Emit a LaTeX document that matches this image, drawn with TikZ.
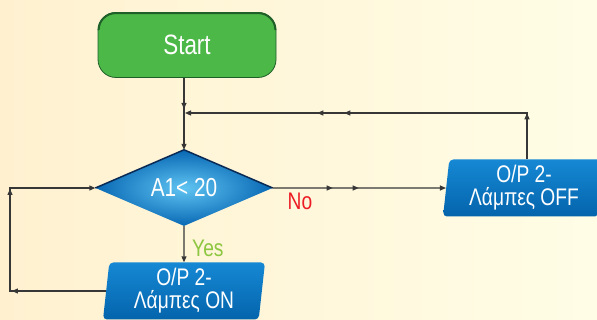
\documentclass[tikz,border=0pt]{standalone}
\usepackage{fontspec}
\setmainfont[FakeStretch=0.8]{Liberation Sans}
\usepackage{xcolor}
\usetikzlibrary{arrows.meta,decorations.markings,shapes.geometric}

\definecolor{bgleft}{RGB}{255,241,208}
\definecolor{bgright}{RGB}{255,253,230}
\definecolor{startgreen}{RGB}{76,184,72}
\definecolor{startrim}{RGB}{30,96,40}
\definecolor{boxtop}{RGB}{22,136,212}
\definecolor{boxbottom}{RGB}{4,100,172}
\definecolor{lightblue}{RGB}{96,196,242}
\definecolor{darkblue}{RGB}{8,104,180}
\definecolor{rimblue}{RGB}{8,42,84}
\definecolor{flowgray}{RGB}{55,55,55}
\definecolor{yesgreen}{RGB}{141,198,63}
\definecolor{nored}{RGB}{237,28,36}

\tikzset{
  flow/.style={draw=flowgray,line width=1.1pt,-{Triangle[length=6pt,width=5pt]}},
  tipat/.style={postaction={decorate,decoration={markings,
      mark=at position #1 with {\arrow{Triangle[length=6pt,width=5pt]}}}}},
  startbox/.style={rectangle,rounded corners=18pt,minimum width=178pt,minimum height=65pt,
      fill=startgreen,draw=startrim,line width=0.8pt,font=\fontsize{28}{28}\selectfont},
  testbox/.style={diamond,aspect=2.4,minimum width=177pt,minimum height=76pt,inner sep=0pt,
      inner color=lightblue,outer color=darkblue,font=\fontsize{26}{26}\selectfont},
  outbox/.style={trapezium,trapezium left angle=82,trapezium right angle=98,
      trapezium stretches body,minimum width=162pt,minimum height=57pt,inner sep=0pt,
      rounded corners=4pt,top color=boxtop,bottom color=boxbottom,align=center},
}

\begin{document}
\begin{tikzpicture}[x=1pt,y=-1pt,font=\fontsize{24}{23}\selectfont,text=white]
    % Background
    \clip (0,0) rectangle (597,320);
    \shade[left color=bgleft,right color=bgright] (0,0) rectangle (597,320);

    % Blocks
    \node[startbox] (start) at (187,45) {Start};
    \draw[startrim,line width=2pt] ([xshift=1pt,yshift=-18pt]start.north west) arc[start angle=180,end angle=90,radius=17pt]
        -- ([xshift=-18pt,yshift=-1pt]start.north east) arc[start angle=90,end angle=0,radius=17pt];
    \node[testbox] (test) at (184,188) {A1< 20};
    \draw[rimblue,line width=1.5pt] (test.west) -- (test.north) -- (test.east);
    \node[outbox] (on) at (184,291) {O/P 2-\\Λάμπες ON};
    \node[outbox] (off) at (524,188) {O/P 2-\\Λάμπες OFF};

    % Labels
    \node[text=yesgreen,anchor=west,inner sep=0pt] (yes) at (192,248) {Yes};
    \node[text=nored,inner sep=0pt] (no) at (300,201) {No};

    % Main line
    \coordinate (join) at (185,113);
    \draw[flow,tipat=31pt] (start.south -| test.north) -- (test.north);
    \draw[flow] (test.south) -- (on.north);
    \draw[flow,tipat=60pt,tipat=86pt] (test.east) -- (off.west);

    % Return lines
    \coordinate (up) at ([xshift=3pt]off.north);
    \draw[flow,tipat=46pt,tipat=229pt,tipat=256pt] (up) -- (up |- join) -- (join);
    \coordinate (loop) at (10,188);
    \draw[flow,tipat=94pt,tipat=198pt] (on.west) -| (loop) -- (test.west);
\end{tikzpicture}
\end{document}
